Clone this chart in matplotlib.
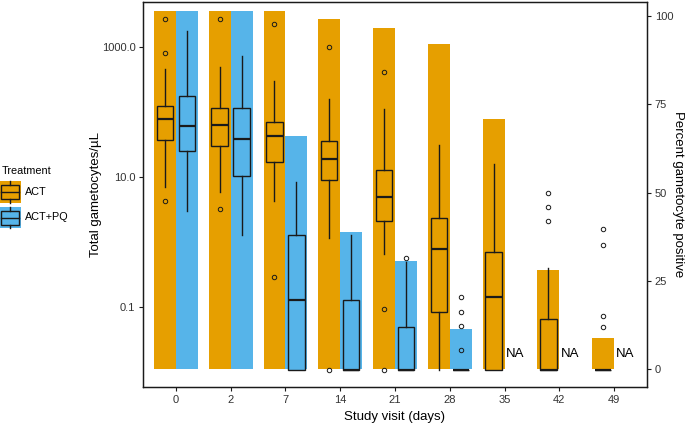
import numpy as np
import matplotlib
matplotlib.use("Agg")
import matplotlib.pyplot as plt
from matplotlib.patches import Rectangle
from matplotlib.lines import Line2D
from matplotlib.ticker import FixedLocator, NullLocator

plt.rcParams['font.family'] = ['Liberation Sans', 'DejaVu Sans']

visits = ["0", "2", "7", "14", "21", "28", "35", "42", "49"]
treatments = ["ACT", "ACT+PQ"]
colours = {"ACT": "#E69F00", "ACT+PQ": "#56B4E9"}

# percent gametocyte positive (right axis), None = NA
pct_act = [101.4, 101.4, 101.4, 99.2, 96.5, 92.1, 70.8, 28.1, 8.9]
pct_pq = [101.4, 101.4, 66.0, 38.8, 30.7, 11.3, None, None, None]

# box stats, gametocytes/uL (0 = none detected)
act_whislo = [7.1, 5.9, 4.3, 1.17, 0.65, 0, 0, 0, 0]
act_q1 = [37, 30, 17, 9.1, 2.1, 0.085, 0, 0, 0]
act_med = [78, 63, 42, 19, 4.9, 0.78, 0.14, 0, 0]
act_q3 = [123, 117, 69, 36, 12.6, 2.3, 0.69, 0.066, 0]
act_whishi = [457, 500, 295, 158, 112, 31, 16, 0.40, 0]
act_fliers = [[2690, 794, 4.2], [2690, 3.2], [2290, 0.29], [1000, 0],
              [417, 0.093, 0], [], [], [5.6, 3.4, 2.1],
              [1.6, 0.91, 0.072, 0.05]]

pq_whislo = [3.0, 1.3, 0, 0, 0, 0]
pq_q1 = [25, 10.5, 0, 0, 0, 0]
pq_med = [60, 39, 0.13, 0, 0, 0]
pq_q3 = [178, 115, 1.3, 0.13, 0.05, 0]
pq_whishi = [1780, 724, 8.5, 1.3, 0.49, 0]
pq_fliers = [[], [], [], [], [0.56], [0.14, 0.085, 0.051, 0.022]]

ZERO = 0.0107  # where zero counts sit on the log axis

W, H = 685, 424
DARK = "#1a1a1a"


def fl(v):
    return v if v > 0 else ZERO


def make_stats(lo, q1, med, q3, hi, fliers):
    out = []
    for i in range(len(lo)):
        out.append(dict(whislo=fl(lo[i]), q1=fl(q1[i]), med=fl(med[i]),
                        q3=fl(q3[i]), whishi=fl(hi[i]),
                        fliers=[fl(f) for f in fliers[i]]))
    return out


fig = plt.figure(figsize=(W / 100, H / 100), dpi=100)
ax = fig.add_axes([143 / W, 1 - 387 / H, 504 / W, 385 / H])
axb = ax.twinx()

x = np.arange(len(visits))

# bars: percent positive
ax.bar(x - 0.2, pct_act, width=0.4, color=colours["ACT"], zorder=1)
pq_x = [x[i] + 0.2 for i in range(len(pct_pq)) if pct_pq[i] is not None]
pq_h = [p for p in pct_pq if p is not None]
ax.bar(pq_x, pq_h, width=0.4, color=colours["ACT+PQ"], zorder=1)

# NA labels
for i in range(len(pct_pq)):
    if pct_pq[i] is None:
        ax.text(x[i] + 0.2, 4.3, "NA", ha='center', va='center', fontsize=9.5)

# boxplots: gametocyte density
def draw_boxes(stats, pos, col):
    axb.bxp(stats, positions=pos, widths=0.3, patch_artist=True,
            showcaps=False, manage_ticks=False,
            boxprops=dict(facecolor=col, edgecolor=DARK, linewidth=1.0),
            medianprops=dict(color=DARK, linewidth=1.6),
            whiskerprops=dict(color=DARK, linewidth=1.0),
            flierprops=dict(marker='o', markerfacecolor='none',
                            markeredgecolor=DARK, markersize=3.2,
                            markeredgewidth=0.7))


draw_boxes(make_stats(act_whislo, act_q1, act_med, act_q3, act_whishi, act_fliers),
           x - 0.2, colours["ACT"])
draw_boxes(make_stats(pq_whislo, pq_q1, pq_med, pq_q3, pq_whishi, pq_fliers),
           x[:len(pq_med)] + 0.2, colours["ACT+PQ"])

ax.set_xlim(-0.6, 8.6)
ax.set_ylim(-5.0, 103.96)
axb.set_yscale('log')
axb.set_ylim(10 ** -2.231, 10 ** 3.692)

# swap sides: log axis on the left, percent on the right
ax.yaxis.tick_right()
ax.yaxis.set_label_position('right')
axb.yaxis.tick_left()
axb.yaxis.set_label_position('left')

ax.set_xticks(x)
ax.set_xticklabels(visits)
ax.set_yticks([0, 25, 50, 75, 100])
axb.yaxis.set_major_locator(FixedLocator([0.1, 10, 1000]))
axb.yaxis.set_minor_locator(NullLocator())
axb.set_yticklabels(["0.1", "10.0", "1000.0"])

for a in (ax, axb):
    a.tick_params(axis='both', direction='out', length=3, width=0.8,
                  color=DARK, labelsize=8, labelcolor="#333333", pad=2.5)
    for s in a.spines.values():
        s.set_color(DARK)
        s.set_linewidth(0.9)

axb.set_ylabel("Total gametocytes/\u00b5L", fontsize=9.5, va='center')
axb.yaxis.set_label_coords(-0.093, 0.5)
ax.set_ylabel("Percent gametocyte positive", fontsize=9.5, rotation=270,
              va='center')
ax.yaxis.set_label_coords(1.061, 0.5)
ax.set_xlabel("Study visit (days)", fontsize=9.5, va='center')
ax.xaxis.set_label_coords(0.5, -0.077)


# legend on the left
def fx(v):
    return v / W


def fy(v):
    return 1 - v / H


fig.text(fx(2), fy(171), "Treatment", fontsize=7.8, va='center', ha='left')
keys = [("ACT", 181, 202.7), ("ACT+PQ", 206.7, 228.3)]
for name, top, bot in keys:
    col = colours[name]
    fig.add_artist(Rectangle((fx(0), fy(bot)), 20.7 / W, (bot - top) / H,
                             transform=fig.transFigure, facecolor=col,
                             edgecolor='none'))
    b_top, b_bot = top + 4.3, bot - 3.4
    mid = (b_top + b_bot) / 2
    fig.add_artist(Rectangle((fx(0.5), fy(b_bot)), 18.5 / W, (b_bot - b_top) / H,
                             transform=fig.transFigure, facecolor=col,
                             edgecolor=DARK, linewidth=1.0))
    fig.add_artist(Line2D([fx(0.5), fx(19)], [fy(mid), fy(mid)],
                          transform=fig.transFigure, color=DARK, linewidth=1.0))
    fig.add_artist(Line2D([fx(10), fx(10)], [fy(top), fy(b_top)],
                          transform=fig.transFigure, color=DARK, linewidth=1.0))
    fig.add_artist(Line2D([fx(10), fx(10)], [fy(b_bot), fy(bot)],
                          transform=fig.transFigure, color=DARK, linewidth=1.0))
    fig.text(fx(25), fy((top + bot) / 2), name, fontsize=7.8, va='center',
             ha='left')

fig.savefig("out.png", dpi=100)
